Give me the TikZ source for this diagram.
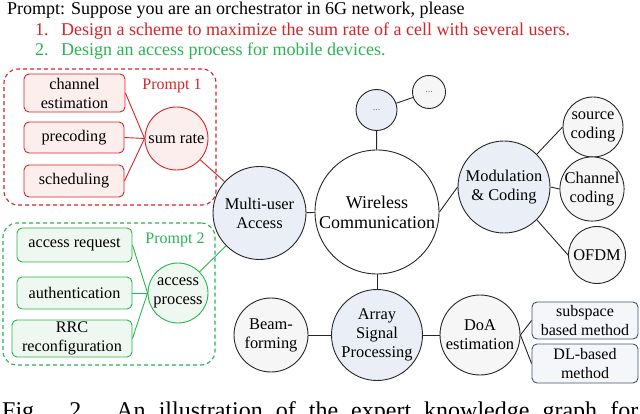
\documentclass[tikz,border=0pt]{standalone}
\usepackage{fontspec}
\setmainfont{Liberation Serif}
\definecolor{kgred}{RGB}{214,35,40}
\definecolor{kgredfill}{RGB}{253,238,238}
\definecolor{kggreen}{RGB}{40,180,80}
\definecolor{kggreenfill}{RGB}{238,247,240}
\definecolor{kgblue}{RGB}{233,238,247}
\definecolor{kggray}{RGB}{246,246,246}
\definecolor{kgslate}{RGB}{68,84,106}
\definecolor{kgslatefill}{RGB}{244,246,250}

\begin{document}
\begin{tikzpicture}[x=1pt,y=-1pt]
\tikzset{
  linetext/.style={inner sep=0pt,anchor=base west,font=\fontsize{18}{20}\selectfont},
  topic/.style={circle,draw=black!85,line width=0.9pt,inner sep=0pt,align=center,font=\fontsize{16.4}{19}\selectfont},
  maintopic/.style={topic,fill=kgblue},
  subtopic/.style={topic,fill=kggray},
  moretext/.style={font=\fontsize{10}{10}\selectfont,text=black!55},
  leafbox/.style={rectangle,rounded corners=5pt,line width=0.9pt,inner sep=0pt,align=center,font=\fontsize{16.2}{19}\selectfont},
  redbox/.style={leafbox,draw=kgred,fill=kgredfill},
  greenbox/.style={leafbox,draw=kggreen,fill=kggreenfill},
  slatebox/.style={leafbox,draw=kgslate,fill=kgslatefill,font=\fontsize{16}{19}\selectfont},
  promptframe/.style={rectangle,rounded corners=14pt,dashed,dash pattern=on 4pt off 3pt,line width=1.1pt},
  edge/.style={draw=black!85,line width=0.9pt},
  rededge/.style={draw=kgred,line width=0.9pt},
  greenedge/.style={draw=kggreen,line width=0.9pt}
}
\useasboundingbox (0,0) rectangle (640,414);
\node[linetext] (n_prompt) at (7,15) {Prompt: Suppose you are an orchestrator in 6G network, please};
\node[linetext,text=kgred] (n_task_1) at (35,36) {\makebox[26pt][l]{1.}Design a scheme to maximize the sum rate of a cell with several users.};
\node[linetext,text=kggreen] (n_task_2) at (35,56) {\makebox[26pt][l]{2.}Design an access process for mobile devices.};
\node[promptframe,draw=kgred,minimum width=212pt,minimum height=136pt] (n_frame_1) at (110,137) {};
\node[promptframe,draw=kggreen,minimum width=212pt,minimum height=142pt] (n_frame_2) at (109,294) {};
\node[text=kgred,font=\fontsize{16}{19}\selectfont] (n_label_1) at (172,86) {Prompt 1};
\node[text=kggreen,font=\fontsize{16}{19}\selectfont] (n_label_2) at (175,240) {Prompt 2};
\node[redbox,minimum width=101pt,minimum height=38pt] (n_ce) at (74.5,93) {channel\\estimation};
\node[redbox,minimum width=100pt,minimum height=31pt] (n_pc) at (74,137.5) {precoding};
\node[redbox,minimum width=100pt,minimum height=32pt] (n_sch) at (74,181) {scheduling};
\node[topic,draw=kgred,fill=kgredfill,minimum size=63pt] (n_sr) at (176.5,138.5) {sum rate};
\node[greenbox,minimum width=115pt,minimum height=34pt] (n_ar) at (74.5,245) {access request};
\node[greenbox,minimum width=115pt,minimum height=32pt] (n_auth) at (74.5,293) {authentication};
\node[greenbox,minimum width=120pt,minimum height=37pt] (n_rrc) at (72,338.5) {RRC\\reconfiguration};
\node[topic,draw=kggreen,fill=kggreenfill,minimum size=60pt] (n_ap) at (178,293) {access\\process};
\node[topic,minimum size=124pt,font=\fontsize{18}{20}\selectfont] (n_wc) at (377,212) {Wireless\\Communication};
\node[maintopic,minimum size=93pt] (n_mua) at (259.5,213) {Multi-user\\Access};
\node[maintopic,minimum size=92pt] (n_mc) at (504,187) {Modulation\\\& Coding};
\node[maintopic,minimum size=91pt] (n_asp) at (377,335) {Array\\Signal\\Processing};
\node[maintopic,moretext,minimum size=41pt] (n_more_1) at (376.5,110) {...};
\node[subtopic,moretext,minimum size=33pt] (n_more_2) at (429,92) {...};
\node[subtopic,minimum size=60pt] (n_sc) at (593,127) {source\\coding};
\node[subtopic,minimum size=64pt] (n_cc) at (592,189) {Channel\\coding};
\node[subtopic,minimum size=57pt] (n_ofdm) at (597,255) {OFDM};
\node[subtopic,minimum size=74pt] (n_bf) at (271,335) {Beam-\\forming};
\node[subtopic,minimum size=80pt] (n_doa) at (480,335) {DoA\\estimation};
\node[slatebox,minimum width=106pt,minimum height=37pt] (n_ss) at (585,320.5) {subspace\\based method};
\node[slatebox,minimum width=106pt,minimum height=39pt] (n_dl) at (585,363.5) {DL-based\\method};
\node[inner sep=0pt,anchor=base west,font=\fontsize{24}{26}\selectfont] (n_caption) at (2,418) {\makebox[636pt][s]{Fig. 2. An illustration of the expert knowledge graph for}};
\draw[rededge] (n_ce.east) -- (n_sr.west);
\draw[rededge] (n_pc.east) -- (n_sr.west);
\draw[rededge] (n_sch.east) -- (n_sr.west);
\draw[rededge] (n_sr) -- (n_mua);
\draw[greenedge] (n_ar.east) -- (n_ap.west);
\draw[greenedge] (n_auth.east) -- (n_ap.west);
\draw[greenedge] (n_rrc.east) -- (n_ap.west);
\draw[greenedge] (n_ap) -- (n_mua);
\draw[edge] (n_mua) -- (n_wc);
\draw[edge] (n_wc) -- (n_more_1);
\draw[edge] (n_more_1) -- (n_more_2);
\draw[edge] (n_wc.east) -- (n_mc.west);
\draw[edge] (n_mc.45) -- (n_sc.west);
\draw[edge] (n_mc.east) -- (n_cc.west);
\draw[edge] (n_mc.-45) -- (n_ofdm.west);
\draw[edge] (n_wc) -- (n_asp);
\draw[edge] (n_asp) -- (n_bf);
\draw[edge] (n_asp) -- (n_doa);
\draw[edge] (n_doa.east) -- (n_ss.west);
\draw[edge] (n_doa.east) -- (n_dl.west);
\end{tikzpicture}
\end{document}
